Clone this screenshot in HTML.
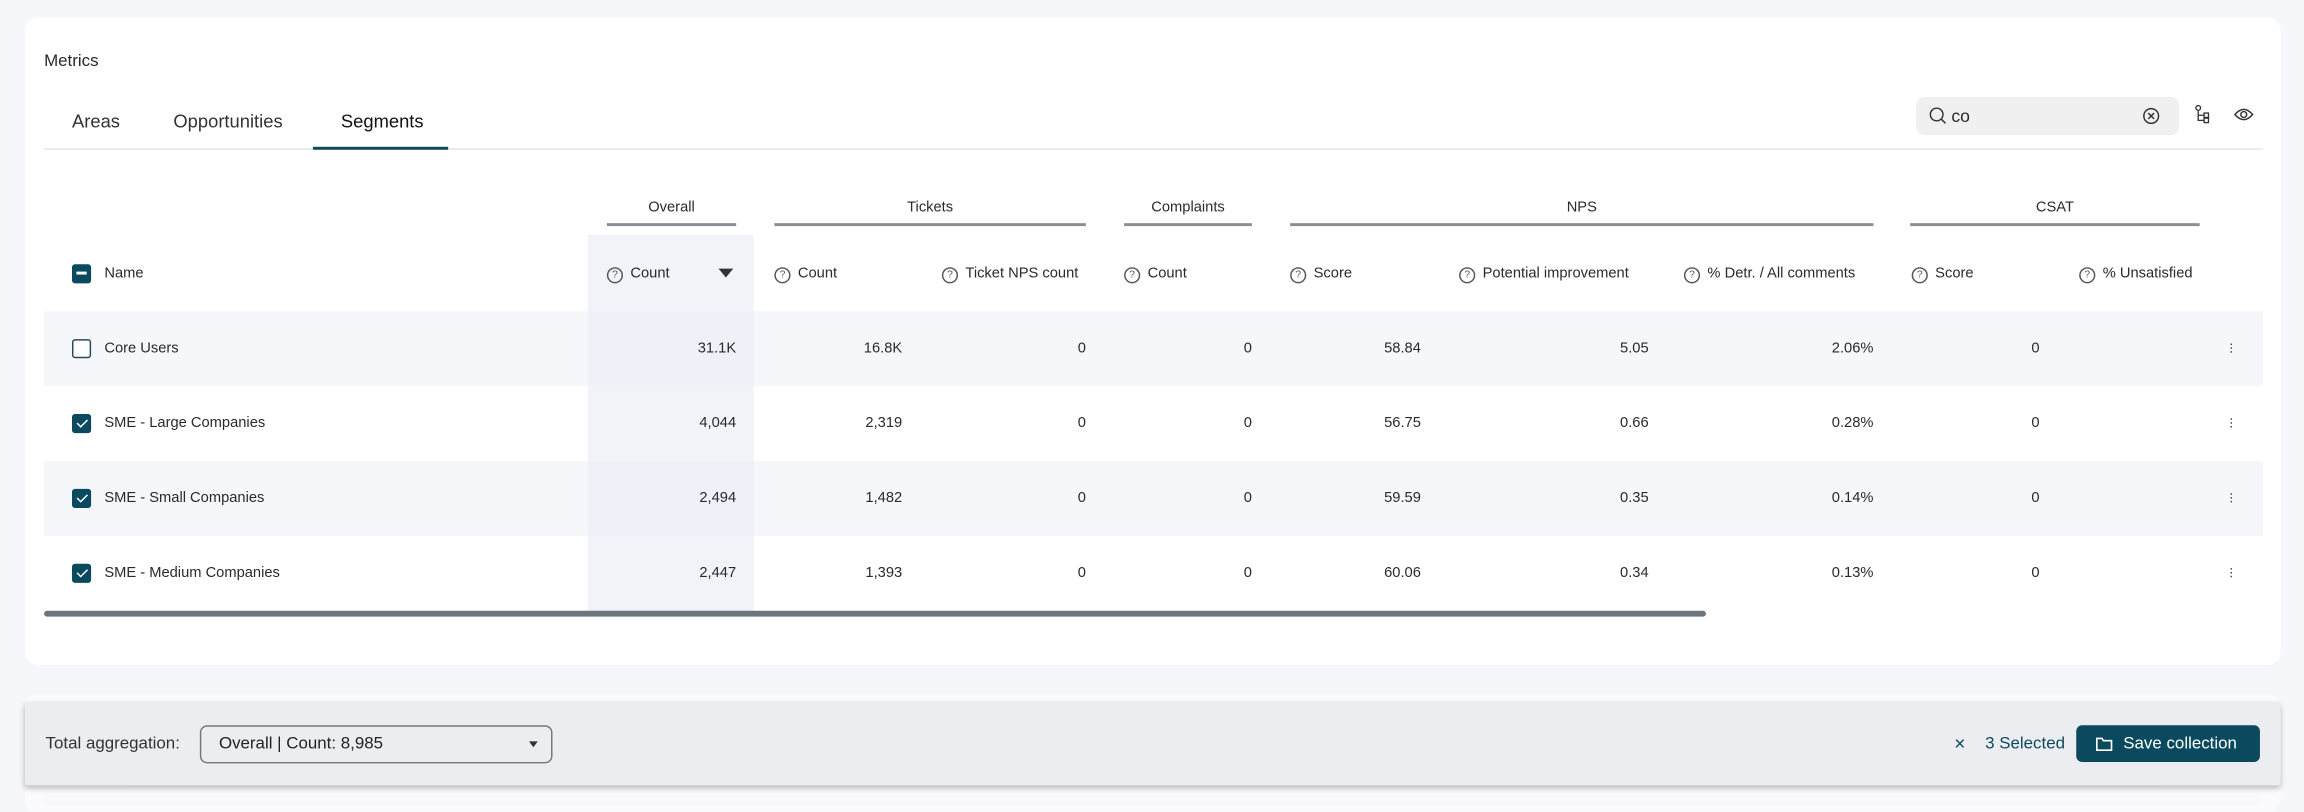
<!DOCTYPE html>
<html><head><meta charset="utf-8"><style>
html,body{margin:0;padding:0;width:2304px;height:806px;overflow:hidden;background:#f6f7fb;}
#s{position:absolute;left:0;top:0;width:1568px;height:549px;transform:scale(1.46939,1.4681);transform-origin:0 0;font-family:"Liberation Sans",sans-serif;color:#2a2a2a;}
.a{position:absolute;white-space:nowrap;}
.t{font-size:10px;line-height:15px;}
.r{text-align:right;}
.q{display:inline-block;width:9px;height:9px;border:1px solid #555;border-radius:50%;font-size:7px;line-height:9px;text-align:center;margin-right:5px;vertical-align:-1px;color:#555;position:relative;top:-1px;}
.gl{position:absolute;height:2px;background:#8a8f94;top:152px;}
.cb{position:absolute;left:49px;width:11px;height:11px;border-radius:2px;}
.on{background:#0b4a5e;border:1px solid #0b4a5e;}
.ck:after{content:"";position:absolute;left:3.5px;top:1px;width:3px;height:6px;border:solid #fff;border-width:0 1.3px 1.3px 0;transform:rotate(45deg);}
.off{border:1px solid #2b4a58;background:#fff;}
.row{position:absolute;left:30px;width:1510px;height:51px;}
.k{position:absolute;left:1518px;width:1.4px;height:1.4px;background:#444;box-shadow:0 2.6px 0 #444,0 5.2px 0 #444;}
.b{font-size:11.5px;line-height:17px;}
</style></head><body><div id="s">
<div class="a" style="left:17px;top:12px;width:1535px;height:441px;background:#fff;border-radius:9px;"></div>
<div class="a" style="left:30px;top:36px;font-size:11.5px;">Metrics</div>
<div class="a" style="left:49px;top:76px;font-size:12.5px;color:#333;">Areas</div>
<div class="a" style="left:118px;top:76px;font-size:12.5px;color:#333;">Opportunities</div>
<div class="a" style="left:232px;top:76px;font-size:12.5px;color:#111;">Segments</div>
<div class="a" style="left:30px;top:101px;width:1510px;height:1px;background:#e2e4e7;"></div>
<div class="a" style="left:213px;top:100px;width:92px;height:2px;background:#0b4a5e;"></div>
<div class="a" style="left:1304px;top:66px;width:179px;height:26px;background:#f0f0f1;border-radius:6px;"></div>
<svg class="a" style="left:1312px;top:72px" width="14" height="14"><circle cx="6" cy="6" r="4.3" fill="none" stroke="#333" stroke-width="1"/><line x1="9" y1="9" x2="12" y2="12" stroke="#333" stroke-width="1"/></svg>
<div class="a" style="left:1328px;top:72px;font-size:12px;">co</div>
<svg class="a" style="left:1458px;top:73px" width="12" height="12"><circle cx="6" cy="6" r="5" fill="none" stroke="#333"/><path d="M4 4L8 8M8 4L4 8" stroke="#333"/></svg>
<svg class="a" style="left:1493px;top:71px" width="12" height="14"><circle cx="3" cy="2.5" r="1.6" fill="none" stroke="#333" stroke-width=".9"/><path d="M3 4V11H7M3 7.5H7" fill="none" stroke="#333" stroke-width=".9"/><rect x="7" y="6" width="3" height="3" fill="none" stroke="#333" stroke-width=".9"/><rect x="7" y="9.5" width="3" height="3" fill="none" stroke="#333" stroke-width=".9"/></svg>
<svg class="a" style="left:1520px;top:72px" width="14" height="12"><path d="M1 6Q7 -1 13 6Q7 13 1 6Z" fill="none" stroke="#333"/><circle cx="7" cy="6" r="2" fill="none" stroke="#333"/></svg>

<div class="a" style="left:400px;top:160px;width:113px;height:256px;background:#f1f3f9;"></div>
<div class="a t" style="left:413px;top:134px;width:88px;text-align:center;">Overall</div><div class="gl" style="left:413px;width:88px"></div>
<div class="a t" style="left:527px;top:134px;width:212px;text-align:center;">Tickets</div><div class="gl" style="left:527px;width:212px"></div>
<div class="a t" style="left:765px;top:134px;width:87px;text-align:center;">Complaints</div><div class="gl" style="left:765px;width:87px"></div>
<div class="a t" style="left:878px;top:134px;width:397px;text-align:center;">NPS</div><div class="gl" style="left:878px;width:397px"></div>
<div class="a t" style="left:1300px;top:134px;width:197px;text-align:center;">CSAT</div><div class="gl" style="left:1300px;width:197px"></div>

<div class="cb on" style="top:180px;"></div>
<div class="a" style="left:52px;top:185px;width:7px;height:1.5px;background:#fff;"></div>
<div class="a t" style="left:71px;top:179px;">Name</div>
<div class="a t" style="left:413px;top:179px;"><span class="q">?</span>Count</div>
<div class="a" style="left:489px;top:183px;width:0;height:0;border-left:5px solid transparent;border-right:5px solid transparent;border-top:6px solid #333;"></div>
<div class="a t" style="left:527px;top:179px;"><span class="q">?</span>Count</div>
<div class="a t" style="left:641px;top:179px;"><span class="q">?</span>Ticket NPS count</div>
<div class="a t" style="left:765px;top:179px;"><span class="q">?</span>Count</div>
<div class="a t" style="left:878px;top:179px;"><span class="q">?</span>Score</div>
<div class="a t" style="left:993px;top:179px;"><span class="q">?</span>Potential improvement</div>
<div class="a t" style="left:1146px;top:179px;"><span class="q">?</span>% Detr. / All comments</div>
<div class="a t" style="left:1301px;top:179px;"><span class="q">?</span>Score</div>
<div class="a t" style="left:1415px;top:179px;"><span class="q">?</span>% Unsatisfied</div>

<div class="row" style="top:212px;background:#f6f7fb;"></div>
<div class="row" style="top:314px;background:#f6f7fb;"></div>
<div class="a" style="left:400px;top:212px;width:113px;height:51px;background:#eef1f8;"></div>
<div class="a" style="left:400px;top:314px;width:113px;height:51px;background:#eef1f8;"></div>

<div class="cb off" style="top:231px;"></div><div class="a t" style="left:71px;top:230px;">Core Users</div>
<div class="cb on ck" style="top:282px;"></div><div class="a t" style="left:71px;top:281px;">SME - Large Companies</div>
<div class="cb on ck" style="top:333px;"></div><div class="a t" style="left:71px;top:332px;">SME - Small Companies</div>
<div class="cb on ck" style="top:384px;"></div><div class="a t" style="left:71px;top:383px;">SME - Medium Companies</div>

<div class="a t r" style="right:1067px;top:230px;">31.1K</div><div class="a t r" style="right:954px;top:230px;">16.8K</div><div class="a t r" style="right:829px;top:230px;">0</div><div class="a t r" style="right:716px;top:230px;">0</div><div class="a t r" style="right:601px;top:230px;">58.84</div><div class="a t r" style="right:446px;top:230px;">5.05</div><div class="a t r" style="right:293px;top:230px;">2.06%</div><div class="a t r" style="right:180px;top:230px;">0</div><div class="k" style="top:234px"></div>
<div class="a t r" style="right:1067px;top:281px;">4,044</div><div class="a t r" style="right:954px;top:281px;">2,319</div><div class="a t r" style="right:829px;top:281px;">0</div><div class="a t r" style="right:716px;top:281px;">0</div><div class="a t r" style="right:601px;top:281px;">56.75</div><div class="a t r" style="right:446px;top:281px;">0.66</div><div class="a t r" style="right:293px;top:281px;">0.28%</div><div class="a t r" style="right:180px;top:281px;">0</div><div class="k" style="top:285px"></div>
<div class="a t r" style="right:1067px;top:332px;">2,494</div><div class="a t r" style="right:954px;top:332px;">1,482</div><div class="a t r" style="right:829px;top:332px;">0</div><div class="a t r" style="right:716px;top:332px;">0</div><div class="a t r" style="right:601px;top:332px;">59.59</div><div class="a t r" style="right:446px;top:332px;">0.35</div><div class="a t r" style="right:293px;top:332px;">0.14%</div><div class="a t r" style="right:180px;top:332px;">0</div><div class="k" style="top:336px"></div>
<div class="a t r" style="right:1067px;top:383px;">2,447</div><div class="a t r" style="right:954px;top:383px;">1,393</div><div class="a t r" style="right:829px;top:383px;">0</div><div class="a t r" style="right:716px;top:383px;">0</div><div class="a t r" style="right:601px;top:383px;">60.06</div><div class="a t r" style="right:446px;top:383px;">0.34</div><div class="a t r" style="right:293px;top:383px;">0.13%</div><div class="a t r" style="right:180px;top:383px;">0</div><div class="k" style="top:387px"></div>

<div class="a" style="left:30px;top:416px;width:1131px;height:4px;background:#6e767d;border-radius:2px;"></div>

<div class="a" style="left:17px;top:473px;width:1535px;height:80px;background:#fbfbfd;border-radius:8px;"></div>
<div class="a" style="left:17px;top:478px;width:1535px;height:57px;background:#ecedf0;box-shadow:0 2px 4px rgba(0,0,0,.25);border-radius:2px;"></div>
<div class="a b" style="left:31px;top:499px;color:#333;">Total aggregation:</div>
<div class="a" style="left:136px;top:494px;width:238px;height:24px;border:1px solid #777;border-radius:5px;"></div>
<div class="a b" style="left:149px;top:499px;color:#222;">Overall | Count: 8,985</div>
<div class="a" style="left:360px;top:505px;border-left:3.5px solid transparent;border-right:3.5px solid transparent;border-top:4px solid #333;"></div>
<div class="a" style="left:1330px;top:499px;font-size:13px;color:#0b4a5e;">×</div>
<div class="a b" style="left:1351px;top:499px;color:#0b4a5e;">3 Selected</div>
<div class="a" style="left:1413px;top:494px;width:125px;height:25px;background:#0b4a5e;border-radius:4px;"></div>
<svg class="a" style="left:1426px;top:502px" width="12" height="10"><path d="M1 1H4.5L5.5 2.5H11V9H1Z" fill="none" stroke="#fff" stroke-width="1.1"/></svg>
<div class="a b" style="left:1445px;top:499px;color:#fff;">Save collection</div>
<div class="a" style="left:30px;top:540px;width:1508px;height:9px;background:#f9f9fb;"></div>
</div></body></html>
